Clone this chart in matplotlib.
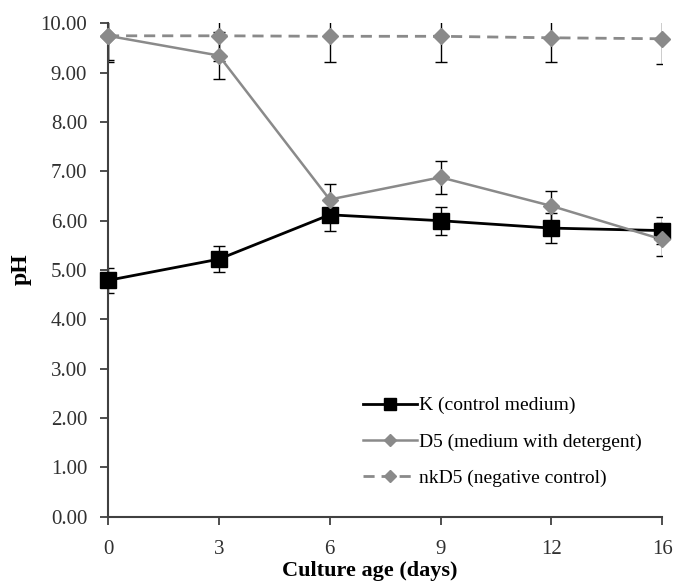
import numpy as np
import matplotlib.pyplot as plt
from matplotlib.lines import Line2D

days = ["0", "3", "6", "9", "12", "16"]
k_ph = [4.79, 5.22, 6.12, 6.00, 5.85, 5.80]
k_err = [0.25, 0.27, 0.32, 0.28, 0.30, 0.27]
d5_ph = [9.75, 9.35, 6.43, 6.88, 6.30, 5.62]
d5_err = [0.50, 0.47, 0.32, 0.34, 0.30, 0.33]
nk_ph = [9.75, 9.75, 9.74, 9.74, 9.71, 9.69]
nk_err = [0.53, 0.52, 0.53, 0.53, 0.50, 0.52]
labels = ['K (control medium)', 'D5 (medium with detergent)', 'nkD5 (negative control)']

plt.rcParams['font.family'] = ['Liberation Serif', 'DejaVu Serif']

x = np.arange(len(days))
fig = plt.figure(figsize=(6.75, 5.87), dpi=100)
ax = fig.add_axes([0.16, 0.12, 0.821, 0.84])

axis_col = '#404040'
gray = '#8a8a8a'
eb = dict(fmt='none', ecolor='black', elinewidth=1, capsize=4, capthick=1)

# error bars (clipped at the axes like in the original)
ax.errorbar(x, k_ph, yerr=k_err, zorder=2, **eb)
ax.errorbar(x, d5_ph, yerr=d5_err, zorder=2, **eb)
ax.errorbar(x, nk_ph, yerr=nk_err, zorder=2, **eb)

# series lines + markers
ax.plot(x, k_ph, color='black', marker='s', markersize=12, lw=2, clip_on=False, zorder=3)
ax.plot(x, d5_ph, color=gray, marker='D', markersize=8, lw=1.8, clip_on=False, zorder=4)
ax.plot(x, nk_ph, color=gray, marker='D', markersize=8, lw=2, ls=(0, (4, 2.5)),
        clip_on=False, zorder=5)

ax.set_xlim(0, 5)
ax.set_ylim(0, 10)
ax.set_xticks(x)
ax.set_xticklabels(days)
ax.set_yticks(np.arange(0, 11, 1))
ax.set_yticklabels(['%.2f' % v for v in np.arange(0, 11, 1)])

for s in ['top', 'right']:
    ax.spines[s].set_visible(False)
for s in ['left', 'bottom']:
    ax.spines[s].set_color(axis_col)
    ax.spines[s].set_linewidth(1.5)
ax.tick_params(direction='out', length=6, width=1.3, color=axis_col,
               labelsize=15, labelcolor='#303030')
ax.tick_params(axis='x', pad=11)
ax.tick_params(axis='y', pad=9)

ax.set_xlabel('Culture age (days)', fontsize=16, fontweight='bold')
ax.xaxis.set_label_coords(0.473, -0.09)
ax.set_ylabel('pH', fontsize=17, fontweight='bold')
ax.yaxis.set_label_coords(-0.137, 0.502)

handles = [
    Line2D([], [], color='black', marker='s', markersize=9, lw=2),
    Line2D([], [], color=gray, marker='D', markersize=6, lw=1.8),
    Line2D([], [], color=gray, marker='D', markersize=6, lw=2, ls=(0, (4, 2.5))),
]
ax.legend(handles, labels, loc='upper left', bbox_to_anchor=(0.46, 0.243),
          frameon=False, fontsize=14, handlelength=2.8, handletextpad=0.1,
          labelspacing=0.95, borderpad=0, borderaxespad=0)

fig.savefig('out.png', dpi=100)
